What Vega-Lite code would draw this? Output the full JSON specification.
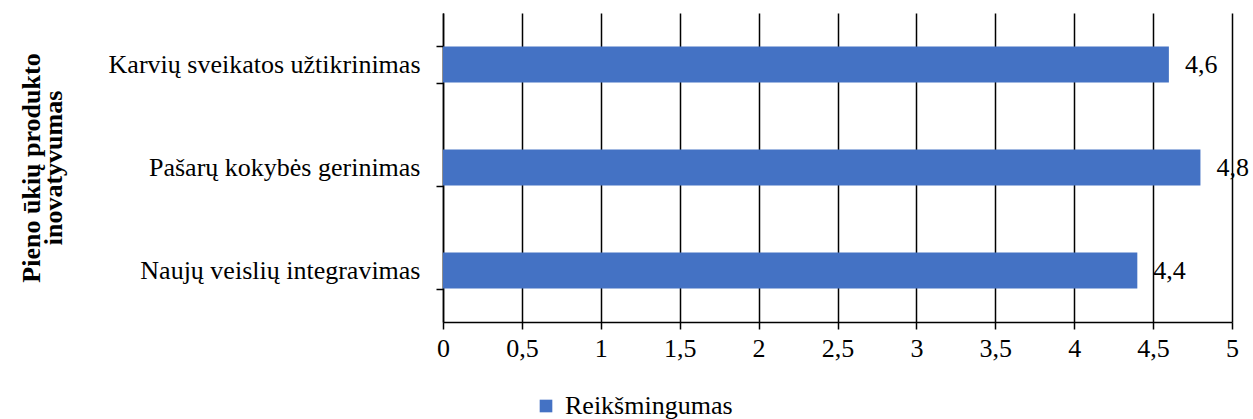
{
  "$schema": "https://vega.github.io/schema/vega-lite/v6.json",
  "width": 789,
  "height": 309,
  "autosize": {"type": "none"},
  "padding": {"left": 443, "top": 13, "right": 21, "bottom": 97},
  "background": "white",
  "config": {
    "font": "Liberation Serif",
    "view": {"stroke": null},
    "locale": {"number": {"decimal": ",", "thousands": " ", "grouping": [3], "currency": ["", ""]}}
  },
  "data": {
    "values": [
      {"kategorija": "Karvių sveikatos užtikrinimas", "reiksme": 4.6, "serija": "Reikšmingumas"},
      {"kategorija": "Pašarų kokybės gerinimas", "reiksme": 4.8, "serija": "Reikšmingumas"},
      {"kategorija": "Naujų veislių integravimas", "reiksme": 4.4, "serija": "Reikšmingumas"}
    ]
  },
  "encoding": {
    "y": {
      "field": "kategorija",
      "type": "nominal",
      "sort": null,
      "scale": {"paddingInner": 0.65, "paddingOuter": 0.325},
      "axis": {
        "title": ["Pieno ūkių produkto", "inovatyvumas"],
        "titleFont": "Liberation Serif",
        "titleFontSize": 26,
        "titleFontWeight": "bold",
        "titleColor": "black",
        "titleLineHeight": 22,
        "titleAngle": -90,
        "titleAlign": "center",
        "titleBaseline": "alphabetic",
        "titleX": -404,
        "titleY": 154.5,
        "labelFont": "Liberation Serif",
        "labelFontSize": 26,
        "labelColor": "black",
        "labelPadding": 16,
        "labelLimit": 600,
        "tickBand": "extent",
        "tickSize": 7,
        "tickColor": "black",
        "tickWidth": 1.5,
        "domainColor": "black",
        "domainWidth": 1.5,
        "grid": false
      }
    },
    "x": {
      "field": "reiksme",
      "type": "quantitative",
      "scale": {"domain": [0, 5], "nice": false},
      "axis": {
        "title": null,
        "values": [0, 0.5, 1, 1.5, 2, 2.5, 3, 3.5, 4, 4.5, 5],
        "format": "~g",
        "labelFont": "Liberation Serif",
        "labelFontSize": 26,
        "labelColor": "black",
        "labelPadding": 6,
        "labelFlush": false,
        "tickSize": 7,
        "tickColor": "black",
        "tickWidth": 1.5,
        "domainColor": "black",
        "domainWidth": 1.5,
        "grid": true,
        "gridColor": "black",
        "gridWidth": 1.5,
        "gridOpacity": 1
      }
    }
  },
  "layer": [
    {
      "mark": {"type": "bar"},
      "encoding": {
        "color": {
          "field": "serija",
          "type": "nominal",
          "scale": {"range": ["#4472C4"]},
          "legend": {
            "title": null,
            "orient": "none",
            "legendX": 90,
            "legendY": 380,
            "symbolType": "square",
            "symbolSize": 160,
            "symbolStrokeWidth": 0,
            "labelFont": "Liberation Serif",
            "labelFontSize": 26,
            "labelColor": "black",
            "labelOffset": 6,
            "labelLimit": 400
          }
        }
      }
    },
    {
      "mark": {"type": "text", "align": "left", "baseline": "middle", "dx": 16, "fontSize": 26, "font": "Liberation Serif", "color": "black"},
      "encoding": {
        "text": {"field": "reiksme", "type": "quantitative", "format": ".1f"}
      }
    }
  ]
}
